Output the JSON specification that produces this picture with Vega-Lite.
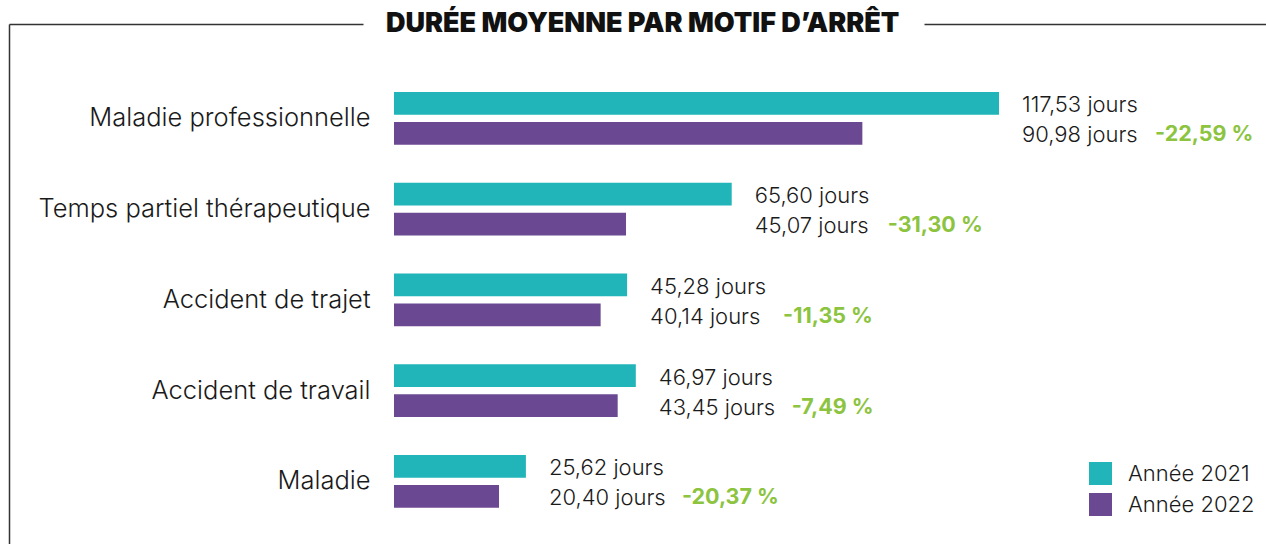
{
  "$schema": "https://vega.github.io/schema/vega-lite/v6.json",
  "width": 1257,
  "height": 520,
  "padding": {"left": 9, "top": 24, "right": 0, "bottom": 0},
  "autosize": {"type": "none"},
  "background": "white",
  "title": {
    "text": "DURÉE MOYENNE PAR MOTIF D’ARRÊT",
    "anchor": "start",
    "frame": "group",
    "dx": 377,
    "dy": 24,
    "offset": -10.5,
    "baseline": "alphabetic",
    "font": "Inter",
    "fontSize": 27,
    "fontWeight": 900,
    "color": "#111111"
  },
  "data": {
    "values": [
      {"motif": "Maladie professionnelle", "annee": "Année 2021", "valeur": 117.53, "pct": -22.59},
      {"motif": "Maladie professionnelle", "annee": "Année 2022", "valeur": 90.98, "pct": -22.59},
      {"motif": "Temps partiel thérapeutique", "annee": "Année 2021", "valeur": 65.60, "pct": -31.30},
      {"motif": "Temps partiel thérapeutique", "annee": "Année 2022", "valeur": 45.07, "pct": -31.30},
      {"motif": "Accident de trajet", "annee": "Année 2021", "valeur": 45.28, "pct": -11.35},
      {"motif": "Accident de trajet", "annee": "Année 2022", "valeur": 40.14, "pct": -11.35},
      {"motif": "Accident de travail", "annee": "Année 2021", "valeur": 46.97, "pct": -7.49},
      {"motif": "Accident de travail", "annee": "Année 2022", "valeur": 43.45, "pct": -7.49},
      {"motif": "Maladie", "annee": "Année 2021", "valeur": 25.62, "pct": -20.37},
      {"motif": "Maladie", "annee": "Année 2022", "valeur": 20.40, "pct": -20.37}
    ]
  },
  "transform": [
    {"joinaggregate": [{"op": "max", "field": "valeur", "as": "labelx"}], "groupby": ["motif"]},
    {"calculate": "replace(format(datum.valeur, '.2f'), '.', ',') + ' jours'", "as": "lab"},
    {"calculate": "(datum.pct < 0 ? '-' : '') + replace(format(abs(datum.pct), '.2f'), '.', ',') + ' %'", "as": "plab"}
  ],
  "layer": [
    {
      "mark": {"type": "bar", "cornerRadius": 0},
      "encoding": {
        "y": {
          "field": "motif", "type": "nominal", "sort": null,
          "scale": {"paddingInner": 0.419, "paddingOuter": 0.5745, "align": 0.652},
          "axis": {
            "orient": "left", "offset": -385, "title": null, "domain": false, "ticks": false, "tickSize": 0,
            "labelPadding": 24, "labelFont": "Inter", "labelFontSize": 25.5, "labelFontWeight": 300, "labelColor": "#1a1a1a", "labelLimit": 500
          }
        },
        "yOffset": {
          "field": "annee", "type": "nominal",
          "scale": {"paddingInner": 0.243, "paddingOuter": 0}
        },
        "x": {
          "field": "valeur", "type": "quantitative",
          "scale": {"domain": [-74.79, 169.39], "nice": false, "zero": false},
          "axis": {
            "orient": "top", "title": null, "labels": false, "ticks": false, "grid": false,
            "domain": true, "domainColor": "#333333", "domainWidth": 1.5, "domainDash": [354, 561, 2000]
          }
        },
        "x2": {"datum": 0},
        "color": {
          "field": "annee", "type": "nominal",
          "scale": {"domain": ["Année 2021", "Année 2022"], "range": ["#21b4b9", "#6b4892"]},
          "legend": {
            "title": null, "orient": "none", "legendX": 1080, "legendY": 438,
            "symbolType": "square", "symbolSize": 529, "symbolStrokeWidth": 0, "symbolOpacity": 1,
            "labelFont": "Inter", "labelFontSize": 22, "labelFontWeight": 300, "labelColor": "#1a1a1a",
            "labelOffset": 16, "rowPadding": 8
          }
        }
      }
    },
    {
      "mark": {"type": "text", "align": "left", "baseline": "middle", "dx": 23, "dy": 2, "font": "Inter", "fontSize": 22, "fontWeight": 300, "color": "#1a1a1a"},
      "encoding": {
        "y": {
          "field": "motif", "type": "nominal", "sort": null,
          "axis": {
            "orient": "left", "offset": 0, "title": null, "labels": false, "ticks": false, "grid": false,
            "domain": true, "domainColor": "#333333", "domainWidth": 1.5
          }
        },
        "yOffset": {"field": "annee", "type": "nominal"},
        "x": {"field": "labelx", "type": "quantitative"},
        "text": {"field": "lab", "type": "nominal"}
      }
    },
    {
      "transform": [{"filter": "datum.annee == 'Année 2022'"}],
      "mark": {"type": "text", "align": "left", "baseline": "middle", "dx": 156, "dy": 2, "font": "Inter", "fontSize": 21.5, "fontWeight": "bold", "color": "#8cc43f"},
      "encoding": {
        "y": {"field": "motif", "type": "nominal", "sort": null, "axis": null},
        "yOffset": {"field": "annee", "type": "nominal"},
        "x": {"field": "labelx", "type": "quantitative"},
        "text": {"field": "plab", "type": "nominal"}
      }
    }
  ],
  "resolve": {"axis": {"y": "independent"}},
  "config": {"view": {"stroke": null}}
}
